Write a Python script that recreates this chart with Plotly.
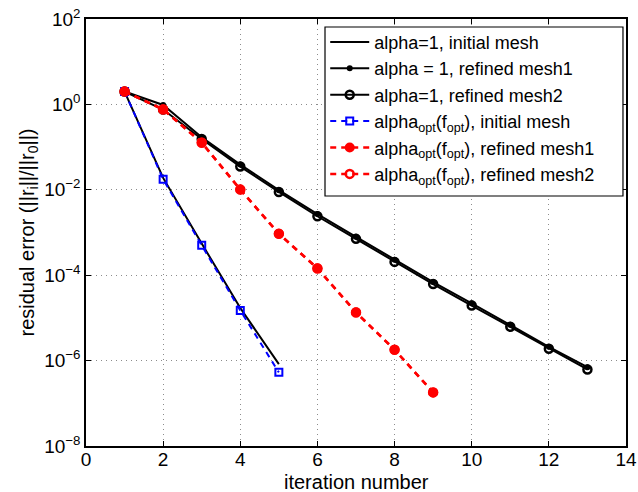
import plotly.graph_objects as go

# Residual history per solver configuration
it_init = [1, 2, 3, 4, 5]
it_mesh1 = list(range(1, 14))
it_mesh2 = list(range(1, 14))
it_opt_mesh1 = list(range(1, 10))
it_opt_mesh2 = list(range(1, 10))

res_alpha1_init = [2.0, 0.019, 5.5e-4, 1.7e-5, 8.3e-7]
res_alpha1_mesh1 = [2.0, 0.97, 0.17, 0.039, 0.0098, 0.0027, 7.9e-4, 2.3e-4,
                    6.9e-5, 2.2e-5, 6.9e-6, 2.1e-6, 7.0e-7]
res_alpha1_mesh2 = [2.0, 0.76, 0.155, 0.035, 0.0089, 0.0024, 7.1e-4, 2.05e-4,
                    6.2e-5, 1.95e-5, 6.2e-6, 1.9e-6, 6.2e-7]
res_opt_init = [2.0, 0.0177, 5.0e-4, 1.5e-5, 5.3e-7]
res_opt_mesh1 = [2.0, 0.77, 0.128, 0.0102, 9.4e-4, 1.45e-4, 1.35e-5, 1.8e-6, 1.8e-7]
res_opt_mesh2 = [2.0, 0.76, 0.127, 0.0101, 9.3e-4, 1.44e-4, 1.34e-5, 1.8e-6, 1.8e-7]

x_ticks = [0, 2, 4, 6, 8, 10, 12, 14]
y_tick_exps = [2, 0, -2, -4, -6, -8]

FONT = "Liberation Sans, Arial, sans-serif"
DASH = "6px,5px"

fig = go.Figure()
fig.add_trace(go.Scatter(
    x=it_init, y=res_alpha1_init, mode="lines",
    name="alpha=1, initial mesh",
    line=dict(color="black", width=2)))
fig.add_trace(go.Scatter(
    x=it_mesh1, y=res_alpha1_mesh1, mode="lines+markers",
    name="alpha = 1, refined mesh1",
    line=dict(color="black", width=2),
    marker=dict(symbol="circle", size=6, color="black")))
fig.add_trace(go.Scatter(
    x=it_mesh2, y=res_alpha1_mesh2, mode="lines+markers",
    name="alpha=1, refined mesh2",
    line=dict(color="black", width=2),
    marker=dict(symbol="circle-open", size=8, color="black",
                line=dict(width=2.5, color="black"))))
fig.add_trace(go.Scatter(
    x=it_init, y=res_opt_init, mode="lines+markers",
    name="alpha<sub>opt</sub>(f<sub>opt</sub>), initial mesh",
    line=dict(color="#0000ff", width=2, dash=DASH),
    marker=dict(symbol="square-open", size=7, color="#0000ff",
                line=dict(width=2, color="#0000ff"))))
fig.add_trace(go.Scatter(
    x=it_opt_mesh1, y=res_opt_mesh1, mode="lines+markers",
    name="alpha<sub>opt</sub>(f<sub>opt</sub>), refined mesh1",
    line=dict(color="#ff0000", width=2.5, dash=DASH),
    marker=dict(symbol="circle", size=10, color="#ff0000")))
fig.add_trace(go.Scatter(
    x=it_opt_mesh2, y=res_opt_mesh2, mode="lines+markers",
    name="alpha<sub>opt</sub>(f<sub>opt</sub>), refined mesh2",
    line=dict(color="#ff0000", width=2.5, dash=DASH),
    marker=dict(symbol="circle-open", size=8, color="#ff0000",
                line=dict(width=2.5, color="#ff0000"))))

axis_common = dict(
    showline=True, linecolor="black", linewidth=1.5, mirror="ticks",
    ticks="inside", ticklen=5, tickcolor="black",
    showgrid=True, gridcolor="#8c8c8c", gridwidth=1, griddash="1px,4px",
    zeroline=False, automargin=False,
    tickfont=dict(family=FONT, size=19, color="black"),
)

fig.update_xaxes(
    range=[0, 14], tickvals=x_ticks, ticktext=[str(v) for v in x_ticks],
    ticklabelstandoff=-5,
    **axis_common)
fig.update_yaxes(
    type="log", range=[-8, 2],
    tickvals=[10.0 ** e for e in y_tick_exps],
    ticktext=[f"10<sup>{e if e >= 0 else chr(8722) + str(-e)}</sup>" for e in y_tick_exps],
    title=dict(text="residual error (||r<sub>i</sub>||/||r<sub>0</sub>||)", standoff=4,
               font=dict(family=FONT, size=20, color="black")),
    **axis_common)

# x-axis title placed just under the tick labels
fig.add_annotation(
    text="iteration number", xref="paper", yref="paper",
    x=0.5, y=-0.085, xanchor="center", yanchor="middle", showarrow=False,
    font=dict(family=FONT, size=20, color="black"))

# framed white box behind the legend entries
fig.add_shape(
    type="rect", xref="paper", yref="paper",
    x0=0.4426, x1=0.9944, y0=0.5855, y1=0.9813,
    fillcolor="white", line=dict(color="black", width=1.2), layer="above")

fig.update_layout(
    width=638, height=492,
    margin=dict(l=86, r=12, t=19, b=46),
    paper_bgcolor="white", plot_bgcolor="white",
    font=dict(family=FONT, size=18, color="black"),
    legend=dict(
        x=0.443, y=0.989, xanchor="left", yanchor="top",
        bgcolor="rgba(0,0,0,0)", borderwidth=0,
        font=dict(family=FONT, size=18, color="black"),
        itemwidth=39, tracegroupgap=0,
    ),
    showlegend=True,
)

fig.write_html("out.html")
